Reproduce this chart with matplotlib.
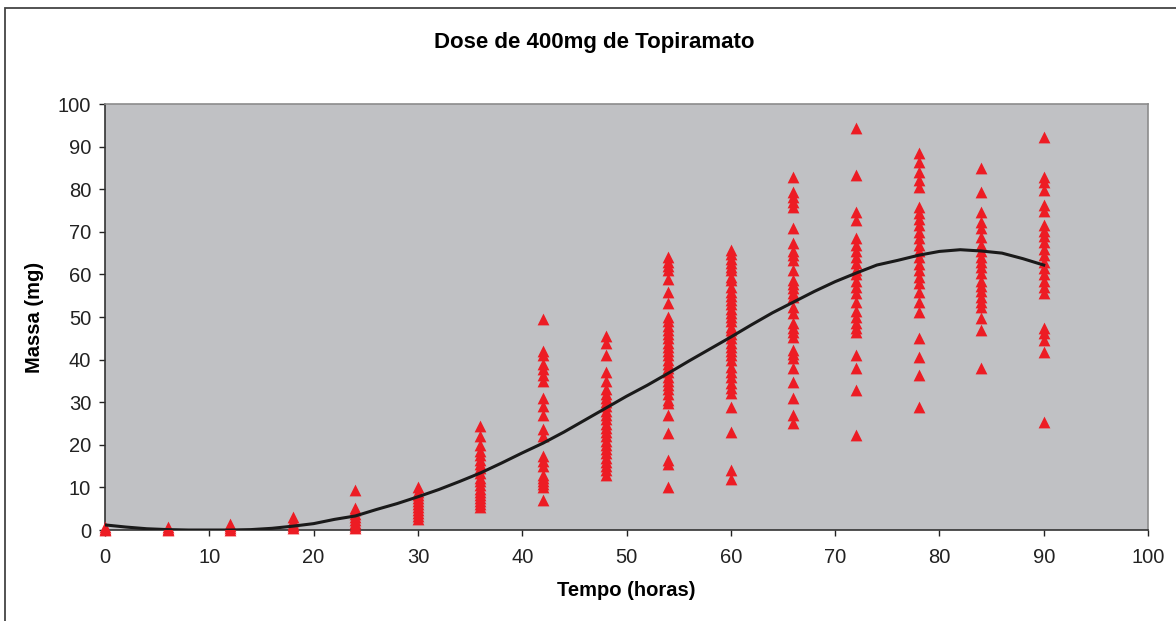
import numpy as np
import matplotlib.pyplot as plt
from matplotlib.patches import Rectangle

plt.rcParams['font.family'] = ['Liberation Sans', 'DejaVu Sans']

# observed mass (mg) at each sampling time (hours)
obs_times = [0, 6, 12, 18, 24, 30, 36, 42, 48, 54, 60, 66, 72, 78, 84, 90]
obs_mass = [
    [0, 0.3, 0.6],
    [0, 0.3, 0.7],
    [0, 0.4, 0.9, 1.4],
    [0.5, 1, 1.5, 2.2, 3],
    [0.5, 1, 1.6, 2.3, 3, 3.8, 4.6, 5.2, 9.5],
    [2.5, 3.2, 4, 4.7, 5.3, 6, 6.7, 7.4, 8.2, 9, 10.2],
    [5.5, 6.2, 6.8, 7.5, 8.2, 9, 9.7, 10.5, 11.4, 12.3, 13.3, 14.5, 15.5, 16.5, 17.5,
     18.5, 20, 22, 24.5],
    [7, 10, 10.8, 11.5, 12.3, 13, 15, 16.2, 17.3, 22, 23.8, 27, 29, 31, 35, 36.5, 37.8,
     39, 41, 42, 49.5],
    [13, 14, 15, 16, 17, 18, 19, 20, 21, 22, 23, 24, 25, 26, 27, 28, 29, 30, 31, 32,
     33, 35, 37, 41, 44, 45.5],
    [10, 15.5, 16.5, 22.8, 27, 29.8, 30.5, 32, 33, 34, 35, 36, 37, 38, 39, 40, 41, 42,
     43, 44, 45, 46, 47, 48, 49, 50, 53.3, 55.9, 59, 61, 62, 63, 64],
    [12, 14, 23, 28.9, 32.2, 33.3, 34.5, 35.9, 37, 38.3, 39.9, 41, 42, 43, 44, 45, 46,
     46.9, 47.7, 49, 50, 51, 52, 53, 54, 55, 55.9, 57, 58.7, 59.4, 61, 61.7, 62.7, 63.7,
     64.7, 65.7],
    [25.1, 27, 31, 34.7, 38, 40.4, 41.3, 42.3, 45.3, 46.5, 47.5, 48.6, 50.9, 52.3, 54.7,
     55.7, 56.7, 57.7, 58.7, 61, 63.4, 64.5, 65.5, 67.4, 70.9, 75.8, 77, 78.2, 79.3, 82.9],
    [22.3, 32.9, 38, 41, 46.5, 47.5, 48.5, 50, 51.5, 53.5, 55.6, 57, 58.5, 60, 61, 62.7,
     64, 65.5, 67, 68.5, 72.8, 74.6, 83.3, 94.4],
    [28.9, 36.4, 40.6, 45, 51.2, 53.5, 55.9, 58, 59.5, 61, 62.5, 64, 65.5, 67, 68.5, 70,
     71.5, 73, 74.5, 75.8, 80.5, 82.2, 84, 86.4, 88.5],
    [38, 47, 49.8, 52.3, 53.5, 54.7, 56, 57.2, 58.5, 60.3, 61.7, 63, 64.2, 65.5, 66.8,
     68.8, 70.9, 72.3, 74.6, 79.3, 85],
    [25.4, 41.8, 44.6, 46.2, 47.4, 55.6, 57, 58.5, 60, 61.5, 63, 64.5, 66, 67.5, 69,
     70.3, 71.6, 75, 76.3, 79.8, 81.7, 82.9, 92.3],
]

# mean model curve
curve_t = [0, 2, 4, 6, 8, 10, 12, 14, 16, 18, 20, 22, 24, 26, 28, 30, 32, 34, 36, 38,
           40, 42, 44, 46, 48, 50, 52, 54, 56, 58, 60, 62, 64, 66, 68, 70, 72, 74, 76,
           78, 80, 82, 84, 86, 88, 90]
curve_mass = [1.2, 0.7, 0.3, 0.1, 0, 0, 0, 0.1, 0.4, 0.9, 1.5, 2.5, 3.3, 4.8, 6.2,
              7.8, 9.5, 11.4, 13.4, 15.7, 18.1, 20.4, 23.0, 25.8, 28.6, 31.4, 34.0,
              36.8, 39.7, 42.5, 45.3, 48.2, 51.0, 53.5, 56.0, 58.3, 60.3, 62.2, 63.3,
              64.5, 65.4, 65.8, 65.5, 65.0, 63.7, 62.2]

fig = plt.figure(figsize=(11.76, 6.21), dpi=100)
ax = fig.add_axes([0.0893, 0.1465, 0.8869, 0.686])
ax.set_facecolor('#c0c1c4')

# outer chart border (left and top visible)
fig.patches.append(Rectangle((5 / 1176, -0.05), 1.2, 1 - 8 / 621 + 0.05,
                             transform=fig.transFigure, fill=False,
                             edgecolor='#444444', linewidth=1.3))

xs = np.concatenate([[t] * len(m) for t, m in zip(obs_times, obs_mass)])
ys = np.concatenate(obs_mass)
ax.scatter(xs, ys, marker='^', s=72, color='#ed1c24', linewidths=0,
           zorder=3, clip_on=False)
ax.plot(curve_t, curve_mass, color='#1a1a1a', linewidth=2.2, zorder=4)

ax.set_xlim(0, 100)
ax.set_ylim(0, 100)
ax.set_xticks(np.arange(0, 101, 10))
ax.set_yticks(np.arange(0, 101, 10))
ax.tick_params(direction='out', length=4, width=1, labelsize=14.5, colors='#222222')
ax.tick_params(axis='x', pad=9)
ax.tick_params(axis='y', pad=6)
for side in ['top', 'right']:
    ax.spines[side].set_color('#8c8c8c')
    ax.spines[side].set_linewidth(1.2)
for side in ['left', 'bottom']:
    ax.spines[side].set_color('#333333')
    ax.spines[side].set_linewidth(1.2)

ax.set_xlabel('Tempo (horas)', fontsize=14.5, fontweight='bold', labelpad=10)
ax.set_ylabel('Massa (mg)', fontsize=14.5, fontweight='bold', labelpad=10)
fig.text(0.505, 0.932, 'Dose de 400mg de Topiramato', ha='center', va='center',
         fontsize=16, fontweight='bold')

fig.savefig('out.png', dpi=100)
